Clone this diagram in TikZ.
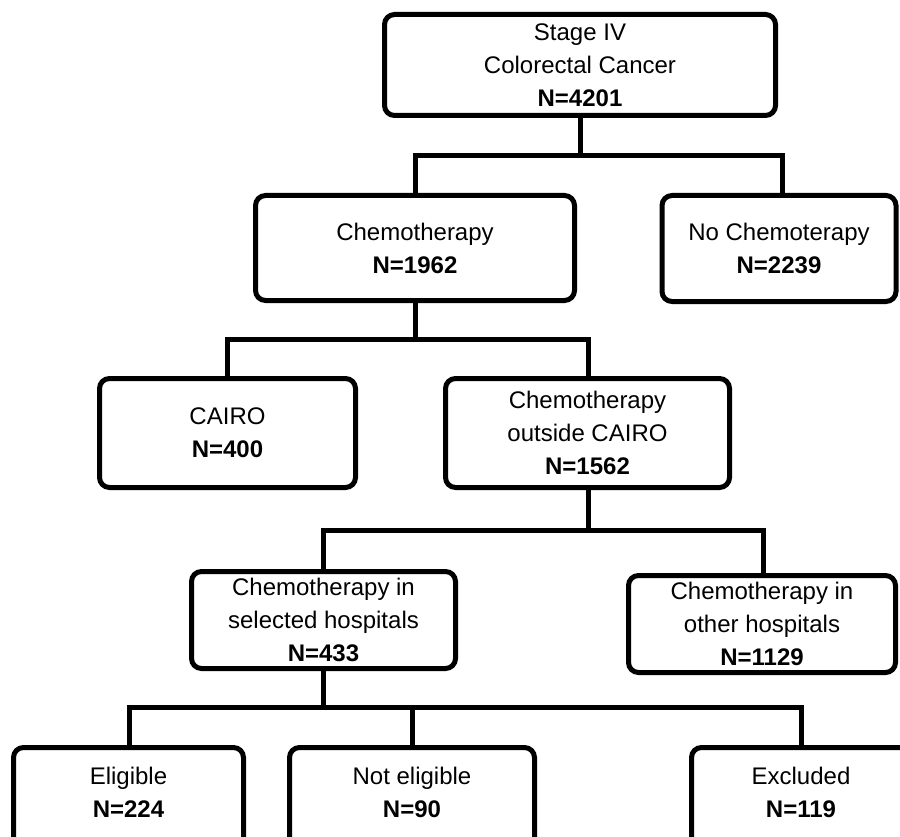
\documentclass[tikz,border=0pt]{standalone}
\usepackage{fontspec}
\setmainfont{Liberation Sans}
\begin{document}
\begin{tikzpicture}[x=1pt,y=-1pt,
  every node/.style={font=\fontsize{24}{33}\selectfont},
  flowbox/.style={draw=black, line width=5pt, rounded corners=10pt,
    align=center, inner sep=2pt, fill=white},
  lowbox/.style={flowbox, minimum height=103pt, text depth=12.5pt},
  link/.style={draw=black, line width=5pt}]
\useasboundingbox (0,0) rectangle (900,837);

% boxes
\node[flowbox, minimum width=391pt, minimum height=101pt] (top) at (580,65)
  {Stage IV\\Colorectal Cancer\\\textbf{N=4201}};
\node[flowbox, minimum width=319pt, minimum height=105pt] (chemo) at (415,248)
  {Chemotherapy\\\textbf{N=1962}};
\node[flowbox, minimum width=234pt, minimum height=106pt] (nochemo) at (779,248.5)
  {No Chemoterapy\\\textbf{N=2239}};
\node[flowbox, minimum width=256pt, minimum height=109pt] (cairo) at (227.5,433)
  {CAIRO\\\textbf{N=400}};
\node[flowbox, minimum width=284pt, minimum height=109pt] (outside) at (587.5,433)
  {Chemotherapy\\outside CAIRO\\\textbf{N=1562}};
\node[flowbox, minimum width=264pt, minimum height=97pt] (selected) at (323.5,620)
  {Chemotherapy in\\selected hospitals\\\textbf{N=433}};
\node[flowbox, minimum width=267pt, minimum height=97pt] (other) at (762,624)
  {Chemotherapy in\\other hospitals\\\textbf{N=1129}};
% bottom row runs past the lower edge of the page
\node[lowbox, minimum width=230pt] (eligible) at (128.5,799)
  {Eligible\\\textbf{N=224}};
\node[lowbox, minimum width=245pt] (noteligible) at (412,799)
  {Not eligible\\\textbf{N=90}};
\node[lowbox, minimum width=219pt] (excluded) at (801,799)
  {Excluded\\\textbf{N=119}};

% bus junctions
\coordinate (b1) at (580,156);
\coordinate (b1l) at (415,156);
\coordinate (b1r) at (782,156);
\coordinate (b2) at (415,339);
\coordinate (b2l) at (227.5,339);
\coordinate (b2r) at (588,339);
\coordinate (b3) at (588,530);
\coordinate (b3l) at (323.5,530);
\coordinate (b3r) at (763,530);
\coordinate (b4) at (323.5,707);
\coordinate (b4l) at (129,707);
\coordinate (b4m) at (412,707);
\coordinate (b4r) at (801,707);

% connectors
\draw[link] (top.south -| b1) -- (b1);
\draw[link] (b1l |- chemo.north) -- (b1l) -- (b1r) -- (b1r |- nochemo.north);
\draw[link] (chemo.south) -- (b2);
\draw[link] (b2l |- cairo.north) -- (b2l) -- (b2r) -- (b2r |- outside.north);
\draw[link] (outside.south -| b3) -- (b3);
\draw[link] (b3l |- selected.north) -- (b3l) -- (b3r) -- (b3r |- other.north);
\draw[link] (selected.south) -- (b4);
\draw[link] (b4l |- eligible.north) -- (b4l) -- (b4r) -- (b4r |- excluded.north);
\draw[link] (b4m) -- (b4m |- noteligible.north);
\end{tikzpicture}
\end{document}
